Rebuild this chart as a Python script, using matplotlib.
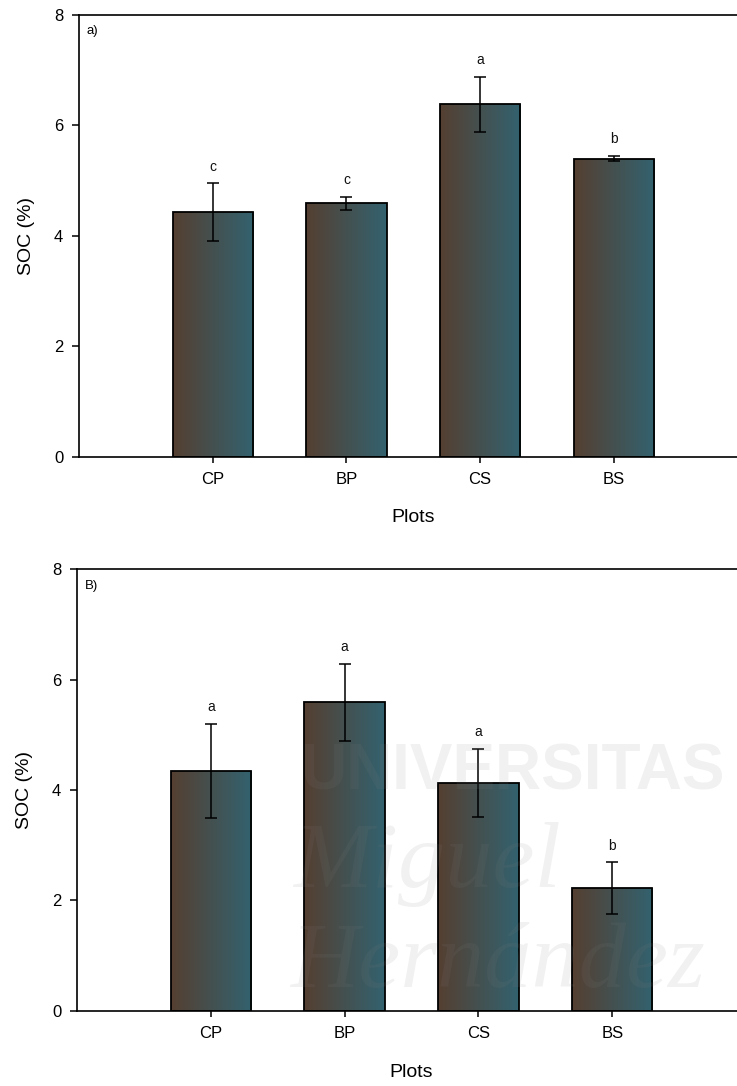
import numpy as np
import matplotlib
matplotlib.use('Agg')
import matplotlib.pyplot as plt
from matplotlib.colors import LinearSegmentedColormap

# ---------------- data ----------------
plots = ['CP', 'BP', 'CS', 'BS']
soc_a = [4.43, 4.59, 6.38, 5.40]
err_a = [0.52, 0.12, 0.50, 0.05]
letters_a = ['c', 'c', 'a', 'b']
soc_b = [4.35, 5.59, 4.13, 2.22]
err_b = [0.85, 0.70, 0.62, 0.47]
letters_b = ['a', 'a', 'a', 'b']
yticks = [0, 2, 4, 6, 8]
panel_a = 'a)'
panel_b = 'B)'

plt.rcParams['font.family'] = ['Liberation Sans', 'DejaVu Sans']

W, H = 737, 1086
fig = plt.figure(figsize=(W / 100, H / 100), dpi=100)


def px_axes(left, top, right, bottom):
    return fig.add_axes([left / W, 1 - bottom / H, (right - left) / W, (bottom - top) / H])


cmap = LinearSegmentedColormap.from_list('grad', ['#553f31', '#33626f'])
grad = np.linspace(0, 1, 256).reshape(1, -1)


def draw_panel(ax, vals, errs, letters, tag):
    x = np.arange(1, len(plots) + 1)
    bars = ax.bar(x, vals, width=0.6, facecolor='none', edgecolor='black',
                  linewidth=1.3, zorder=3)
    for b in bars:
        bb = b.get_bbox()
        im = ax.imshow(grad, extent=[bb.x0, bb.x1, bb.y0, bb.y1], aspect='auto',
                       cmap=cmap, zorder=2, interpolation='bilinear')
        im.set_clip_path(b)
    ax.errorbar(x, vals, yerr=errs, fmt='none', ecolor='black', elinewidth=1.1,
                capsize=4, capthick=1.1, zorder=4)
    for xi, v, e, l in zip(x, vals, errs, letters):
        ax.annotate(l, (xi, v + e), xytext=(0, 9), textcoords='offset points',
                    ha='center', va='baseline', fontsize=10, color='#111111')
    ax.set_xlim(0, 5)
    ax.set_ylim(0, 8)
    ax.set_xticks(x, plots)
    ax.set_yticks(yticks)
    ax.spines['right'].set_visible(False)
    for s in ['top', 'left', 'bottom']:
        ax.spines[s].set_linewidth(1.2)
    ax.tick_params(axis='y', direction='out', length=5.3, width=1.1, pad=6, labelsize=12)
    ax.tick_params(axis='x', direction='out', length=4.2, width=1.1, pad=7, labelsize=12)
    ax.set_ylabel('SOC (%)', fontsize=14)
    ax.set_xlabel('Plots', fontsize=14)
    ax.yaxis.set_label_coords(-0.066, 0.5)
    ax.text(0.0115, 0.963, tag, transform=ax.transAxes, ha='left', va='center',
            fontsize=9.5)


ax1 = px_axes(79, 15, 79 + 5 * 133.7, 456.7)
ax2 = px_axes(77, 569.3, 77 + 5 * 133.8, 1010.7)

draw_panel(ax1, soc_a, err_a, letters_a, panel_a)
draw_panel(ax2, soc_b, err_b, letters_b, panel_b)
ax1.xaxis.set_label_coords(0.5, -0.118)
ax2.xaxis.set_label_coords(0.5, -0.121)

# faint repository watermark over the lower panel
wm = dict(color='#808080', alpha=0.11, zorder=10)
fig.text(300 / W, 1 - 790 / H, 'UNIVERSITAS', fontsize=46, fontweight='bold',
         family=['Liberation Sans'], ha='left', va='baseline', **wm)
fig.text(293 / W, 1 - 887 / H, 'Miguel', fontsize=68, style='italic',
         family=['Liberation Serif'], ha='left', va='baseline', **wm)
fig.text(290 / W, 1 - 987 / H, 'Hernández', fontsize=68, style='italic',
         family=['Liberation Serif'], ha='left', va='baseline', **wm)

fig.savefig('out.png', dpi=100)
